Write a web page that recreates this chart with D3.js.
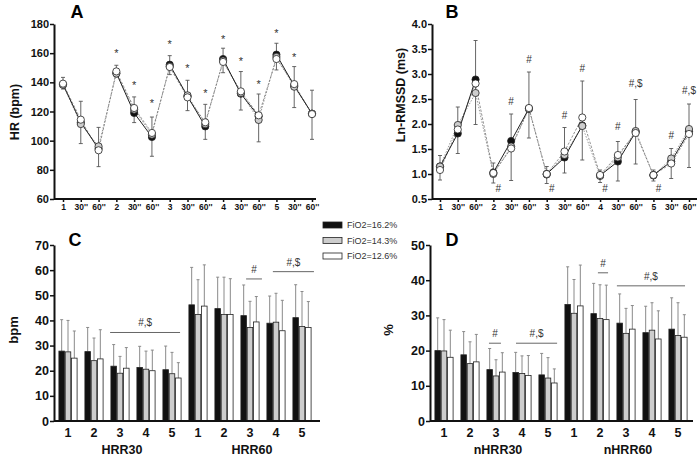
<!DOCTYPE html>
<html>
<head>
<meta charset="utf-8">
<script src="https://cdn.jsdelivr.net/npm/d3@7"></script>
<style>
body { margin: 0; background: #fff; }
svg { display: block; }
text { font-family: "Liberation Sans", Arial, sans-serif; }
</style>
</head>
<body>
<svg id="chart" width="698" height="463"></svg>
<script>
// x categories
var timeLabels = ["1", "30''", "60''", "2", "30''", "60''", "3", "30''", "60''", "4", "30''", "60''", "5", "30''", "60''"];
var groupLabels = ["1", "2", "3", "4", "5", "1", "2", "3", "4", "5"];
var seriesNames = ["FiO2=16.2%", "FiO2=14.3%", "FiO2=12.6%"];

// A: HR (bpm)
var hr162 = [138.5, 112.6, 94.5, 146.4, 119, 102.5, 152.1, 130.4, 109.8, 156, 132.2, 116.7, 159, 137.7, 118.5];
var hr143 = [138.3, 111.4, 96.1, 146, 121.3, 104.1, 151, 131.1, 111.4, 154.9, 132.7, 114.2, 157.4, 137, 118.5];
var hr126 = [139.1, 114.4, 93.4, 147.5, 122.4, 105.3, 150.5, 129.7, 112.6, 154, 133.8, 117.4, 156, 138.8, 118.2];
var hrErrHi = [143.4, 127, 109.1, 151.7, 130, 116.2, 158.3, 141.4, 124.9, 163.4, 147.4, 132, 166.8, 150.8, 134.6];
var hrErrLo = [135.4, 98, 82.2, 143.7, 112.4, 89.3, 145.3, 120.6, 100.9, 146.6, 121, 99.2, 148.5, 122.7, 100.9];
var hrStars = [null, null, null, 160.6, 138.6, 126.7, 166.8, 150.7, 133.4, 170.2, 155.3, 139.3, 174.5, 158, null];

// B: Ln-RMSSD (ms)
var rm162 = [1.15, 1.81, 2.89, 1.03, 1.66, 2.31, 1.0, 1.33, 1.97, 0.97, 1.25, 1.84, 0.98, 1.25, 1.85];
var rm143 = [1.15, 1.98, 2.62, 1.0, 1.55, 2.3, 0.99, 1.38, 1.96, 0.96, 1.33, 1.86, 0.97, 1.31, 1.9];
var rm126 = [1.08, 1.89, 2.81, 1.02, 1.51, 2.32, 1.0, 1.45, 2.13, 0.98, 1.38, 1.82, 0.98, 1.21, 1.8];
var rmErrHi = [1.37, 2.34, 3.67, 1.22, 2.2, 3.04, 1.15, 1.93, 2.86, 1.08, 1.65, 2.49, 1.08, 1.51, 2.4];
var rmErrLo = [0.88, 1.41, 1.99, 0.82, 0.87, 1.72, 0.81, 1.02, 1.28, 0.83, 0.86, 1.2, 0.86, 0.91, 1.13];
var rmMarks = ["", "", "", "#", "#", "#", "#", "#", "#", "#", "#", "#,$", "#", "#", "#,$"];
var rmMarkY = [null, null, null, 0.72, 2.45, 3.3, 0.71, 2.18, 3.11, 0.71, 1.95, 2.81, 0.71, 1.78, 2.68];

// C: HRR (bpm)
var hrr162 = [27.8, 27.6, 21.8, 21.3, 20.4, 46.2, 44.7, 41.9, 38.9, 41.1];
var hrr143 = [27.5, 24.0, 19.0, 20.6, 18.8, 42.4, 42.4, 37.2, 39.3, 37.6];
var hrr126 = [25.0, 24.7, 21.0, 20.0, 17.1, 45.7, 42.4, 39.4, 35.9, 37.2];
var hrrTop162 = [40.3, 37.2, 30.4, 29.7, 29.8, 61.1, 57.2, 54.1, 49.7, 54.2];
var hrrTop143 = [40.0, 33.0, 25.7, 27.8, 27.3, 56.2, 57.2, 47.6, 50.8, 51.5];
var hrrTop126 = [35.8, 36.3, 29.2, 28.2, 23.2, 62.1, 56.6, 49.5, 48.0, 47.5];
var hrrSig = [
	{from: 1.62, to: 4.31, y: 35.2, text: "#,$"},
	{from: 6.85, to: 7.46, y: 56.5, text: "#"},
	{from: 7.88, to: 9.46, y: 59.4, text: "#,$"}
];

// D: nHRR (%)
var nhrr162 = [20.0, 18.8, 14.6, 13.8, 13.1, 33.1, 30.5, 27.8, 25.1, 26.1];
var nhrr143 = [19.9, 16.3, 12.8, 13.5, 12.2, 30.6, 29.1, 24.9, 25.8, 24.3];
var nhrr126 = [18.1, 16.8, 13.9, 12.9, 10.8, 32.7, 28.8, 26.1, 23.3, 23.8];
var nhrrTop162 = [29.3, 25.4, 20.6, 19.5, 19.2, 43.8, 39.1, 36.1, 32.6, 35.0];
var nhrrTop143 = [28.8, 22.5, 17.4, 18.5, 18.0, 40.2, 38.7, 32.0, 33.6, 33.6];
var nhrrTop126 = [25.8, 24.6, 19.4, 18.6, 14.8, 44.3, 38.6, 32.8, 31.3, 30.2];
var nhrrSig = [
	{from: 1.73, to: 2.19, y: 22.1, text: "#"},
	{from: 2.77, to: 4.35, y: 22.1, text: "#,$"},
	{from: 5.92, to: 6.31, y: 42.1, text: "#"},
	{from: 6.65, to: 9.27, y: 38.4, text: "#,$"}
];

var fills = ["#111", "#cdcdcd", "#fff"];
var svg = d3.select("#chart");

function styleAxis(sel, size) {
	sel.selectAll("text")
		.attr("font-size", size + "px")
		.attr("font-weight", "bold")
		.attr("fill", "#111");
	sel.selectAll("line").attr("stroke", "#111").attr("stroke-width", 1.5);
	sel.select(".domain").attr("stroke", "#111").attr("stroke-width", 2);
}

function linePanel(cfg) {
	var g = svg.append("g");
	var x = d3.scalePoint().domain(d3.range(timeLabels.length)).range(cfg.xr);
	var y = d3.scaleLinear().domain(cfg.yd).range([199, 24]);

	g.append("g")
		.attr("transform", `translate(${cfg.x0},0)`)
		.call(d3.axisLeft(y).tickValues(cfg.ticks).tickFormat(cfg.fmt).tickSize(4).tickPadding(1).tickSizeOuter(0))
		.call(styleAxis, 11);

	var xa = g.append("g")
		.attr("transform", `translate(0,${y(cfg.yd[0])})`)
		.call(d3.axisBottom(x).tickFormat(i => timeLabels[i]).tickSize(3).tickPadding(2))
		.call(styleAxis, 8.5);
	xa.select(".domain").remove();
	g.append("line")
		.attr("x1", cfg.x0).attr("x2", cfg.xEnd)
		.attr("y1", y(cfg.yd[0])).attr("y2", y(cfg.yd[0]))
		.attr("stroke", "#111").attr("stroke-width", 2);

	// whiskers
	var idx = d3.range(timeLabels.length);
	g.selectAll(".whisker")
		.data(idx)
		.enter().append("line")
		.attr("x1", i => x(i)).attr("x2", i => x(i))
		.attr("y1", i => y(cfg.hi[i])).attr("y2", i => y(cfg.lo[i]))
		.attr("stroke", "#555").attr("stroke-width", 0.9);
	[cfg.hi, cfg.lo].forEach(arr => {
		g.selectAll(null)
			.data(idx)
			.enter().append("line")
			.attr("x1", i => x(i) - 2).attr("x2", i => x(i) + 2)
			.attr("y1", i => y(arr[i])).attr("y2", i => y(arr[i]))
			.attr("stroke", "#555").attr("stroke-width", 0.9);
	});

	var line = d3.line().x(d => x(d[0])).y(d => y(d[1]));
	// full lines for gray (dotted) and white (dashed)
	g.append("path")
		.attr("d", line(cfg.series[1].map((v, i) => [i, v])))
		.attr("fill", "none").attr("stroke", "#999").attr("stroke-width", 1)
		.attr("stroke-dasharray", "1.5,1.5");
	g.append("path")
		.attr("d", line(cfg.series[2].map((v, i) => [i, v])))
		.attr("fill", "none").attr("stroke", "#777").attr("stroke-width", 0.8)
		.attr("stroke-dasharray", "2.5,1.5");
	// black solid within each stage
	d3.range(5).forEach(k => {
		var pts = [3 * k, 3 * k + 1, 3 * k + 2].map(i => [i, cfg.series[0][i]]);
		g.append("path")
			.attr("d", line(pts))
			.attr("fill", "none").attr("stroke", "#222").attr("stroke-width", 1);
	});

	cfg.series.forEach((s, si) => {
		g.selectAll(null)
			.data(s)
			.enter().append("circle")
			.attr("cx", (d, i) => x(i))
			.attr("cy", d => y(d))
			.attr("r", 3.6)
			.attr("fill", fills[si])
			.attr("stroke", "#222")
			.attr("stroke-width", 0.8);
	});

	g.selectAll(".mark")
		.data(idx.filter(i => cfg.markY[i] != null))
		.enter().append("text")
		.attr("x", i => x(i) + (cfg.markY[i] < cfg.series[0][i] ? 5 : 0))
		.attr("y", i => y(cfg.markY[i]) + cfg.markDy)
		.attr("text-anchor", "middle")
		.attr("font-size", cfg.markSize + "px")
		.attr("fill", "#333")
		.text(i => cfg.marks[i]);

	g.append("text")
		.attr("transform", `translate(${cfg.labelX},${cfg.labelY}) rotate(-90)`)
		.attr("text-anchor", "middle")
		.attr("font-size", "12.5px")
		.attr("font-weight", "bold")
		.attr("fill", "#111")
		.text(cfg.label);

	g.append("text")
		.attr("x", cfg.titleX).attr("y", 18)
		.attr("text-anchor", "middle")
		.attr("font-size", "18px")
		.attr("font-weight", "bold")
		.text(cfg.title);
}

function barPanel(cfg) {
	var g = svg.append("g");
	var x = d3.scaleBand().domain(d3.range(groupLabels.length)).range(cfg.xr)
		.paddingInner(0.27).paddingOuter(0.135);
	var xs = d3.scaleBand().domain([0, 1, 2]).range([0, x.bandwidth()]);
	var y = d3.scaleLinear().domain([0, cfg.ymax]).range([421, 245]);
	var xi = d3.scaleLinear().domain([0, 1])
		.range([x(0) + x.bandwidth() / 2, x(1) + x.bandwidth() / 2]);

	g.append("g")
		.attr("transform", `translate(${cfg.x0},0)`)
		.call(d3.axisLeft(y).ticks(cfg.ymax / 10).tickSize(4).tickPadding(1).tickSizeOuter(0))
		.call(styleAxis, 12.5);

	var xa = g.append("g")
		.attr("transform", `translate(0,${y(0)})`)
		.call(d3.axisBottom(x).tickFormat(i => groupLabels[i]).tickSize(0).tickPadding(7))
		.call(styleAxis, 12.5);
	xa.select(".domain").remove();

	cfg.series.forEach((s, si) => {
		var top = cfg.tops[si];
		g.selectAll(null)
			.data(s)
			.enter().append("line")
			.attr("x1", (d, i) => x(i) + xs(si) + xs.bandwidth() / 2)
			.attr("x2", (d, i) => x(i) + xs(si) + xs.bandwidth() / 2)
			.attr("y1", d => y(d))
			.attr("y2", (d, i) => y(top[i]))
			.attr("stroke", "#8a8a8a").attr("stroke-width", 1);
		g.selectAll(null)
			.data(top)
			.enter().append("line")
			.attr("x1", (d, i) => x(i) + xs(si) + xs.bandwidth() / 2 - 1.5)
			.attr("x2", (d, i) => x(i) + xs(si) + xs.bandwidth() / 2 + 1.5)
			.attr("y1", d => y(d)).attr("y2", d => y(d))
			.attr("stroke", "#8a8a8a").attr("stroke-width", 1);
		g.selectAll(null)
			.data(s)
			.enter().append("rect")
			.attr("x", (d, i) => x(i) + xs(si) + 0.4)
			.attr("y", d => y(d))
			.attr("width", xs.bandwidth() - 0.8)
			.attr("height", d => y(0) - y(d))
			.attr("fill", fills[si])
			.attr("stroke", "#222")
			.attr("stroke-width", 0.8);
	});

	g.append("line")
		.attr("x1", cfg.x0).attr("x2", cfg.xEnd)
		.attr("y1", y(0)).attr("y2", y(0))
		.attr("stroke", "#111").attr("stroke-width", 2);

	cfg.sig.forEach(s => {
		g.append("line")
			.attr("x1", xi(s.from)).attr("x2", xi(s.to))
			.attr("y1", y(s.y)).attr("y2", y(s.y))
			.attr("stroke", "#555").attr("stroke-width", 0.9);
		g.append("text")
			.attr("x", (xi(s.from) + xi(s.to)) / 2)
			.attr("y", y(s.y) - 6)
			.attr("text-anchor", "middle")
			.attr("font-size", "10px")
			.attr("fill", "#333")
			.text(s.text);
	});

	cfg.groups.forEach((name, k) => {
		g.append("text")
			.attr("x", (xi(5 * k) + xi(5 * k + 4)) / 2 + 2)
			.attr("y", 454)
			.attr("text-anchor", "middle")
			.attr("font-size", "12.5px")
			.attr("font-weight", "bold")
			.attr("fill", "#111")
			.text(name);
	});

	g.append("text")
		.attr("transform", `translate(${cfg.labelX},330) rotate(-90)`)
		.attr("text-anchor", "middle")
		.attr("font-size", "13px")
		.attr("font-weight", "bold")
		.attr("fill", "#111")
		.text(cfg.label);

	g.append("text")
		.attr("x", cfg.titleX).attr("y", 246)
		.attr("text-anchor", "middle")
		.attr("font-size", "18px")
		.attr("font-weight", "bold")
		.text(cfg.title);
}

linePanel({
	x0: 54, xEnd: 316, xr: [63, 312], yd: [60, 180], ticks: d3.range(60, 181, 20), fmt: d3.format("d"),
	series: [hr162, hr143, hr126], hi: hrErrHi, lo: hrErrLo,
	marks: hrStars.map(v => v == null ? "" : "*"), markY: hrStars, markSize: 11, markDy: 5,
	label: "HR (bpm)", labelX: 19, labelY: 112, title: "A", titleX: 77
});

linePanel({
	x0: 432, xEnd: 697, xr: [440, 689], yd: [0.5, 4.0], ticks: d3.range(0.5, 4.01, 0.5), fmt: d3.format(".1f"),
	series: [rm162, rm143, rm126], hi: rmErrHi, lo: rmErrLo,
	marks: rmMarks, markY: rmMarkY, markSize: 10, markDy: 3.5,
	label: "Ln-RMSSD (ms)", labelX: 405, labelY: 95, title: "B", titleX: 452
});

barPanel({
	x0: 54, xEnd: 320, xr: [55, 315], ymax: 70,
	series: [hrr162, hrr143, hrr126], tops: [hrrTop162, hrrTop143, hrrTop126],
	sig: hrrSig, groups: ["HRR30", "HRR60"], label: "bpm", labelX: 18, title: "C", titleX: 75
});

barPanel({
	x0: 430, xEnd: 693, xr: [431, 691], ymax: 50,
	series: [nhrr162, nhrr143, nhrr126], tops: [nhrrTop162, nhrrTop143, nhrrTop126],
	sig: nhrrSig, groups: ["nHRR30", "nHRR60"], label: "%", labelX: 393, title: "D", titleX: 452
});

// legend
var legend = svg.append("g").attr("transform", "translate(323,225)");
seriesNames.forEach((name, i) => {
	legend.append("rect")
		.attr("x", 0).attr("y", i * 15.5 - 3)
		.attr("width", 19).attr("height", 6)
		.attr("fill", fills[i]).attr("stroke", "#222").attr("stroke-width", 0.8);
	legend.append("text")
		.attr("x", 24).attr("y", i * 15.5 + 3)
		.attr("font-size", "9px")
		.attr("fill", "#333")
		.text(name);
});
</script>
</body>
</html>
